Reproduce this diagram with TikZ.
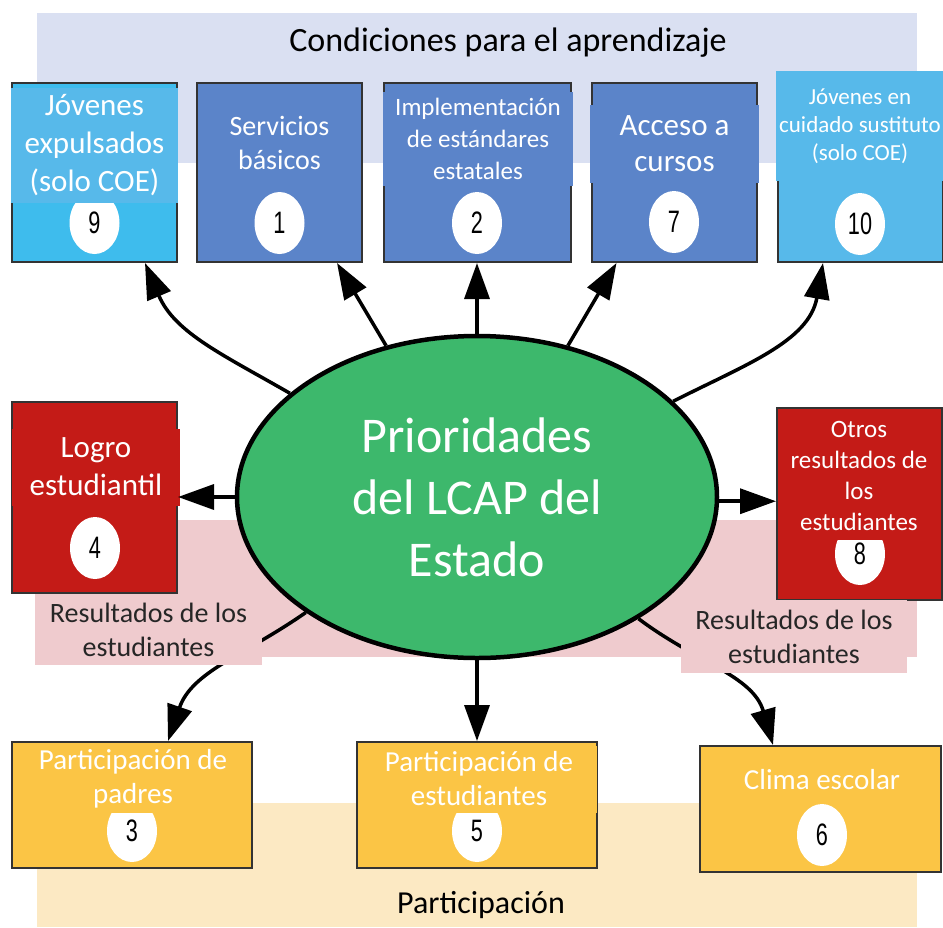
\documentclass[tikz,border=0pt]{standalone}
\usepackage{fontspec}
\setmainfont{Carlito}
\newfontfamily\numfont{Liberation Sans}
\usetikzlibrary{positioning, arrows.meta, shapes.geometric}

\definecolor{BandColor}{RGB}{218,224,242}
\definecolor{DarkBlue}{RGB}{91,132,201}
\definecolor{LightBlue}{RGB}{62,188,237}
\definecolor{SkyBlue}{RGB}{87,185,234}
\definecolor{GoalRed}{RGB}{196,27,23}
\definecolor{PinkBand}{RGB}{239,203,206}
\definecolor{GoldBox}{RGB}{251,197,69}
\definecolor{BeigeBand}{RGB}{252,233,195}
\definecolor{CoreGreen}{RGB}{61,184,108}

\newcommand{\tam}[2]{\fontsize{#1}{#2}\selectfont}
\newcommand{\cifra}[1]{\scalebox{0.7}[1]{#1}}

\tikzset{
  caja/.style={draw=black!80, line width=2pt, inner sep=0pt},
  rotulo/.style={text=white, align=center, inner sep=0pt},
  numero/.style={ellipse, fill=white, minimum width=50pt, minimum height=62pt, inner sep=0pt, font=\numfont\tam{31}{31}},
  flecha/.style={line width=3.5pt, -{Triangle[length=36pt,width=25pt]}},
  etiqueta/.style={fill=PinkBand, align=center, inner sep=0pt, text=black!85, font=\tam{28}{34}}
}

\begin{document}
\begin{tikzpicture}[x=1pt, y=1pt]
  \useasboundingbox (0,0) rectangle (943,-927);

  % Bands
  \fill[BandColor] (37,-13) rectangle (917,-163);
  \fill[PinkBand] (35,-520) rectangle (917,-657);
  \fill[BeigeBand] (37,-803) rectangle (917,-927);
  \node[font=\tam{34}{40}] (tcond) at (508,-43) {Condiciones para el aprendizaje};
  \node[font=\tam{32}{36}] (tpart) at (481,-905) {Participación};

  % Top boxes
  \node[caja, fill=LightBlue, minimum width=165pt, minimum height=179pt] (b9) at (94.5,-172.5) {};
  \node[caja, fill=DarkBlue, minimum width=165pt, minimum height=179pt] (b1) at (279.5,-172.5) {};
  \node[caja, fill=DarkBlue, minimum width=187pt, minimum height=179pt] (b2) at (477,-172.5) {};
  \node[caja, fill=DarkBlue, minimum width=165pt, minimum height=179pt] (b7) at (674,-172.5) {};
  \node[caja, fill=SkyBlue, minimum width=165pt, minimum height=179pt] (b10) at (860,-172.5) {};

  \node[numero] (n9) at (94.5,-223) {\cifra{9}};
  \node[numero] (n1) at (279.5,-223) {\cifra{1}};
  \node[numero] (n2) at (477,-223) {\cifra{2}};
  \node[numero] (n7) at (674,-222) {\cifra{7}};
  \node[numero] (n10) at (860,-224) {\cifra{10}};

  \node[rotulo, fill=SkyBlue, minimum width=167pt, minimum height=115pt, font=\tam{31}{38}] (t9) at (94.5,-145) {Jóvenes\\expulsados\\(solo COE)};
  \node[rotulo, font=\tam{28}{34}] (t1) at (279.5,-143) {Servicios\\básicos};
  \node[rotulo, fill=DarkBlue, minimum width=190pt, minimum height=94pt, font=\tam{25}{32}] (t2) at (478,-139) {Implementación\\de estándares\\estatales};
  \node[rotulo, fill=DarkBlue, minimum width=169pt, minimum height=78pt, font=\tam{31}{36}] (t7) at (674.5,-144) {Acceso a\\cursos};
  \node[rotulo, fill=SkyBlue, minimum width=168pt, minimum height=110pt, font=\tam{23}{28}] (t10) at (860,-126) {Jóvenes en\\cuidado sustituto\\(solo COE)};

  % Side boxes
  \node[caja, fill=GoalRed, minimum width=165pt, minimum height=191pt] (b4) at (94.5,-497.5) {};
  \node[caja, fill=GoalRed, minimum width=165pt, minimum height=192pt] (b8) at (859.5,-504) {};
  \node[numero] (n4) at (95,-548) {\cifra{4}};
  \node[numero] (n8) at (860,-554) {\cifra{8}};
  \node[rotulo, fill=GoalRed, minimum width=168pt, minimum height=77pt, font=\tam{31}{38}] (t4) at (96,-467) {Logro\\estudiantil};
  \node[rotulo, fill=GoalRed, minimum width=162pt, minimum height=127pt, font=\tam{25}{31}] (t8) at (859,-476) {Otros\\resultados de\\los\\estudiantes};

  % Bottom boxes
  \node[caja, fill=GoldBox, minimum width=240pt, minimum height=126pt] (b3) at (132,-805) {};
  \node[caja, fill=GoldBox, minimum width=240pt, minimum height=126pt] (b5) at (477,-805) {};
  \node[caja, fill=GoldBox, minimum width=241pt, minimum height=126pt] (b6) at (820.5,-809) {};
  \node[numero] (n3) at (132,-831) {\cifra{3}};
  \node[numero] (n5) at (477,-831) {\cifra{5}};
  \node[numero] (n6) at (822,-835) {\cifra{6}};
  \node[rotulo, fill=GoldBox, minimum width=236pt, minimum height=67pt, font=\tam{29}{34}] (t3) at (133,-779) {Participación de\\padres};
  \node[rotulo, fill=GoldBox, minimum width=236pt, minimum height=67pt, font=\tam{29}{34}] (t5) at (479,-779) {Participación de\\estudiantes};
  \node[rotulo, font=\tam{29}{34}] (t6) at (822,-780) {Clima escolar};

  % Center
  \node[ellipse, draw=black, line width=4.5pt, fill=CoreGreen, minimum width=480pt, minimum height=322pt,
        text=white, align=center, font=\tam{50}{62}] (ell) at (477,-497) {Prioridades\\del LCAP del\\Estado};

  % Arrows
  \draw[flecha] (ell.151) to[out=150, in=-67] ([xshift=50.5pt]b9.south);
  \draw[flecha] (ell.121) -- ([xshift=57.5pt]b1.south);
  \draw[flecha] (ell.north) -- (b2.south);
  \draw[flecha] (ell.59) -- ([xshift=-57.5pt]b7.south);
  \draw[flecha] (ell.26) to[out=27, in=-100] ([xshift=-37pt]b10.south);
  \draw[flecha] (ell.west) -- (b4.east |- ell.west);
  \draw[flecha] (ell.-1) -- (b8.west |- ell.-1);
  \draw[flecha] (ell.214) to[out=215, in=71] ([xshift=36pt]b3.north);
  \draw[flecha] (ell.south) -- (b5.north);
  \draw[flecha] (ell.-37) to[out=-37, in=106] ([xshift=-47.5pt]b6.north);

  % Outcome labels
  \node[etiqueta, minimum width=227pt, minimum height=70pt] (r1) at (148.5,-630) {Resultados de los\\estudiantes};
  \node[etiqueta, minimum width=226pt, minimum height=73pt] (r2) at (794,-636.5) {Resultados de los\\estudiantes};
\end{tikzpicture}
\end{document}
